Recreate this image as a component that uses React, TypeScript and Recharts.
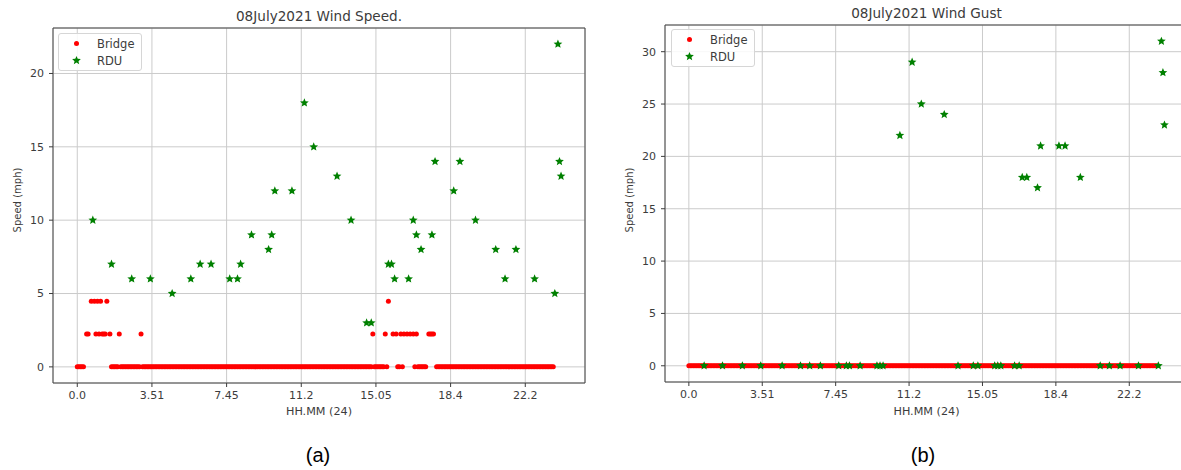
import React from 'react';
import { CartesianGrid, Legend, ReferenceArea, Scatter, ScatterChart, XAxis, YAxis } from 'recharts';

// x is the sample index; the original axis labels every 48th sample with its HH.MM time
const timeTicks = [0, 48, 96, 144, 192, 240, 288];
const timeTickLabels = ['0.0', '3.51', '7.45', '11.2', '15.05', '18.4', '22.2'];
const speedTicks = [0, 5, 10, 15, 20];
const gustTicks = [0, 5, 10, 15, 20, 25, 30];

// Bridge sensor, one value per sample index (null = no reading)
const bridgeSpeed: (number | null)[] = [
    0, 0, 0, 0, 0, null, 2.24, 2.24, null, 4.47, null, 4.47, 2.24, 4.47, 2.24, 4.47, 2.24, 2.24, 2.24, 4.47,
    null, 2.24, 0, 0, 0, 0, 0, 2.24, 0, 0, 0, 0, 0, 0, 0, 0, 0, 0, 0, 0,
    0, 2.24, 0, 0, 0, 0, 0, 0, 0, 0, 0, 0, 0, 0, 0, 0, 0, 0, 0, 0,
    0, 0, 0, 0, 0, 0, 0, 0, 0, 0, 0, 0, 0, 0, 0, 0, 0, 0, 0, 0,
    0, 0, 0, 0, 0, 0, 0, 0, 0, 0, 0, 0, 0, 0, 0, 0, 0, 0, 0, 0,
    0, 0, 0, 0, 0, 0, 0, 0, 0, 0, 0, 0, 0, 0, 0, 0, 0, 0, 0, 0,
    0, 0, 0, 0, 0, 0, 0, 0, 0, 0, 0, 0, 0, 0, 0, 0, 0, 0, 0, 0,
    0, 0, 0, 0, 0, 0, 0, 0, 0, 0, 0, 0, 0, 0, 0, 0, 0, 0, 0, 0,
    0, 0, 0, 0, 0, 0, 0, 0, 0, 0, 0, 0, 0, 0, 0, 0, 0, 0, 0, 0,
    0, 0, 0, 0, 0, 0, 0, 0, 0, 0, 2.24, 0, 0, 0, 0, 0, 0, 0, 2.24, 0,
    4.47, null, null, 2.24, null, 2.24, 0, 0, 2.24, 0, 2.24, null, 2.24, null, 2.24, null, 2.24, 0, 2.24, 0,
    0, 0, 0, 0, 0, null, 2.24, 2.24, 2.24, 2.24, null, 0, 0, 0, 0, 0, 0, 0, 0, 0,
    0, 0, 0, 0, 0, 0, 0, 0, 0, 0, 0, 0, 0, 0, 0, 0, 0, 0, 0, 0,
    0, 0, 0, 0, 0, 0, 0, 0, 0, 0, 0, 0, 0, 0, 0, 0, 0, 0, 0, 0,
    0, 0, 0, 0, 0, 0, 0, 0, 0, 0, 0, 0, 0, 0, 0, 0, 0, 0, 0, 0,
    0, 0, 0, 0, 0, 0, 0,
];

const bridgeGust: (number | null)[] = [
    0, 0, 0, 0, 0, 0, 0, 0, 0, 0, 0, 0, 0, 0, 0, 0, 0, 0, 0, 0,
    0, 0, 0, 0, 0, 0, 0, 0, 0, 0, 0, 0, 0, 0, 0, 0, 0, 0, 0, 0,
    0, 0, 0, 0, 0, 0, 0, 0, 0, 0, 0, 0, 0, 0, 0, 0, 0, 0, 0, 0,
    0, 0, 0, 0, 0, 0, 0, 0, 0, 0, 0, 0, 0, 0, 0, 0, 0, 0, 0, 0,
    0, 0, 0, 0, 0, 0, 0, 0, 0, 0, 0, 0, 0, 0, 0, 0, 0, 0, 0, 0,
    0, 0, 0, 0, 0, 0, 0, 0, 0, 0, 0, 0, 0, 0, 0, 0, 0, 0, 0, 0,
    0, 0, 0, 0, 0, 0, 0, 0, 0, 0, 0, 0, 0, 0, 0, 0, 0, 0, 0, 0,
    0, 0, 0, 0, 0, 0, 0, 0, 0, 0, 0, 0, 0, 0, 0, 0, 0, 0, 0, 0,
    0, 0, 0, 0, 0, 0, 0, 0, 0, 0, 0, 0, 0, 0, 0, 0, 0, 0, 0, 0,
    0, 0, 0, 0, 0, 0, 0, 0, 0, 0, 0, 0, 0, 0, 0, 0, 0, 0, 0, 0,
    0, 0, 0, 0, 0, 0, 0, 0, 0, 0, 0, 0, 0, 0, 0, 0, 0, 0, 0, 0,
    0, 0, 0, 0, 0, 0, 0, 0, 0, 0, 0, 0, 0, 0, 0, 0, 0, 0, 0, 0,
    0, 0, 0, 0, 0, 0, 0, 0, 0, 0, 0, 0, 0, 0, 0, 0, 0, 0, 0, 0,
    0, 0, 0, 0, 0, 0, 0, 0, 0, 0, 0, 0, 0, 0, 0, 0, 0, 0, 0, 0,
    0, 0, 0, 0, 0, 0, 0, 0, 0, 0, 0, 0, 0, 0, 0, 0, 0, 0, 0, 0,
    0, 0, 0, 0, 0, 0, 0,
];

// RDU readings and the sample index each one falls on
const rduSample = [
    10, 22, 35, 47, 61, 73, 79, 86, 98, 103, 105, 112, 123, 125, 127, 138, 146, 152, 167, 176, 186,
    189, 200, 202, 204, 213, 216, 218, 221, 228, 230, 242, 246, 256, 269, 275, 282, 294, 307, 309, 310, 311,
];
const rduSpeed = [
    10, 7, 6, 6, 5, 6, 7, 7, 6, 6, 7, 9, 8, 9, 12, 12, 18, 15, 13, 10, 3,
    3, 7, 7, 6, 6, 10, 9, 8, 9, 14, 12, 14, 10, 8, 6, 8, 6, 5, 22, 14, 13,
];
const rduGust = [
    0, 0, 0, 0, 0, 0, 0, 0, 0, 0, 0, 0, 0, 0, 0, 22, 29, 25, 24, 0, 0,
    0, 0, 0, 0, 0, 0, 18, 18, 17, 21, 21, 21, 18, 0, 0, 0, 0, 0, 31, 28, 23,
];

const TIME_DOMAIN: [number, number] = [-15.6, 326.4];
const TEXT = '#3c3c3c';
const FONT = '"DejaVu Sans", sans-serif';

const bridgePoints = (values: (number | null)[]) =>
    values.map((y, x) => ({ x, y })).filter((p) => p.y !== null);
const rduPoints = (values: number[]) => values.map((y, i) => ({ x: rduSample[i], y }));

const starPath = (cx: number, cy: number, r: number) => {
    const pts: string[] = [];
    for (let i = 0; i < 10; i++) {
        const rad = i % 2 === 0 ? r : r * 0.45;
        const a = -Math.PI / 2 + (i * Math.PI) / 5;
        pts.push(`${(cx + rad * Math.cos(a)).toFixed(2)},${(cy + rad * Math.sin(a)).toFixed(2)}`);
    }
    return `M${pts.join('L')}Z`;
};

const RedDot = (props: any) => <circle cx={props.cx} cy={props.cy} r={2.5} fill="#ff0000" />;
const GreenStar = (props: any) => <path d={starPath(props.cx, props.cy, 4.6)} fill="#008000" />;

const LegendBox = () => (
    <div
        style={{
            width: 82,
            height: 36,
            border: '1px solid #d6d6d6',
            borderRadius: 3,
            background: 'rgba(255,255,255,0.85)',
            position: 'relative',
            fontFamily: FONT,
            fontSize: 11.5,
            color: TEXT,
        }}>
        <svg width={30} height={36} style={{ position: 'absolute', left: 3, top: 0 }}>
            <circle cx={14.5} cy={9.5} r={2.5} fill="#ff0000" />
            <path d={starPath(14.5, 26.5, 4.6)} fill="#008000" />
        </svg>
        <div style={{ position: 'absolute', left: 38, top: 2, lineHeight: '16px' }}>Bridge</div>
        <div style={{ position: 'absolute', left: 38, top: 19, lineHeight: '16px' }}>RDU</div>
    </div>
);

type PanelProps = {
    left: number;
    title: string;
    yWidth: number;
    xHeight: number;
    marginTop: number;
    marginRight: number;
    yDomain: [number, number];
    yTicks: number[];
    bridge: (number | null)[];
    rdu: number[];
    legendLeft: number;
    legendTop: number;
    yLabelX: number;
};

const Panel = (p: PanelProps) => {
    const plotLeft = p.left + p.yWidth;
    const plotRight = p.left + 600 - p.marginRight;
    const center = (plotLeft + plotRight) / 2;
    const tickStyle = { fontSize: 11, fill: TEXT, fontFamily: FONT };
    return (
        <>
            <div style={{ position: 'absolute', left: p.left, top: 0 }}>
                <ScatterChart
                    width={600}
                    height={420}
                    margin={{ top: p.marginTop, right: p.marginRight, bottom: 0, left: 0 }}>
                    <CartesianGrid stroke="#cbcbcb" />
                    <XAxis
                        type="number"
                        dataKey="x"
                        domain={TIME_DOMAIN}
                        ticks={timeTicks}
                        interval={0}
                        allowDataOverflow
                        tickFormatter={(v) => timeTickLabels[timeTicks.indexOf(v)]}
                        height={p.xHeight}
                        axisLine={false}
                        tickSize={4}
                        tickMargin={4}
                        tick={tickStyle}
                        tickLine={{ stroke: TEXT }}
                    />
                    <YAxis
                        type="number"
                        dataKey="y"
                        domain={p.yDomain}
                        ticks={p.yTicks}
                        interval={0}
                        allowDataOverflow
                        width={p.yWidth}
                        axisLine={false}
                        tickSize={4}
                        tickMargin={5}
                        tick={tickStyle}
                        tickLine={{ stroke: TEXT }}
                    />
                    <ReferenceArea
                        x1={TIME_DOMAIN[0]}
                        x2={TIME_DOMAIN[1]}
                        y1={p.yDomain[0]}
                        y2={p.yDomain[1]}
                        fill="none"
                        stroke="#444"
                        ifOverflow="visible"
                    />
                    <Scatter name="Bridge" data={bridgePoints(p.bridge)} shape={RedDot} isAnimationActive={false} />
                    <Scatter name="RDU" data={rduPoints(p.rdu)} shape={GreenStar} isAnimationActive={false} />
                    <Legend
                        content={<LegendBox />}
                        layout="vertical"
                        align="center"
                        verticalAlign="middle"
                        wrapperStyle={{ left: p.legendLeft, top: p.legendTop, width: 'auto', height: 'auto' }}
                    />
                </ScatterChart>
            </div>
            <div style={{ ...label, left: center, top: p.marginTop - 12, fontSize: 13.6 }}>{p.title}</div>
            <div style={{ ...label, left: center, top: 411, fontSize: 11.2 }}>HH.MM (24)</div>
            <div style={{ ...label, left: p.yLabelX, top: 200, fontSize: 10, transform: 'translate(-50%, -50%) rotate(-90deg)' }}>
                Speed (mph)
            </div>
        </>
    );
};

const label: React.CSSProperties = {
    position: 'absolute',
    transform: 'translate(-50%, -50%)',
    whiteSpace: 'nowrap',
    fontFamily: FONT,
    color: TEXT,
};

const caption: React.CSSProperties = {
    position: 'absolute',
    transform: 'translate(-50%, -50%)',
    fontFamily: '"Liberation Sans", Arial, sans-serif',
    fontSize: 20,
    color: '#000',
    top: 455,
};

export default function App() {
    return (
        <div
            style={{
                position: 'absolute',
                left: 0,
                top: 0,
                width: 1181,
                height: 470,
                overflow: 'hidden',
                background: '#fff',
            }}>
            <Panel
                left={0}
                title="08July2021 Wind Speed."
                yWidth={53}
                xHeight={37}
                marginTop={28}
                marginRight={15}
                yDomain={[-1.1, 23.1]}
                yTicks={speedTicks}
                bridge={bridgeSpeed}
                rdu={rduSpeed}
                legendLeft={58}
                legendTop={33}
                yLabelX={17}
            />
            <Panel
                left={600}
                title="08July2021 Wind Gust"
                yWidth={65}
                xHeight={38}
                marginTop={25}
                marginRight={12}
                yDomain={[-1.55, 32.55]}
                yTicks={gustTicks}
                bridge={bridgeGust}
                rdu={rduGust}
                legendLeft={71}
                legendTop={29}
                yLabelX={629}
            />
            <div style={{ ...caption, left: 318 }}>(a)</div>
            <div style={{ ...caption, left: 923 }}>(b)</div>
        </div>
    );
}
